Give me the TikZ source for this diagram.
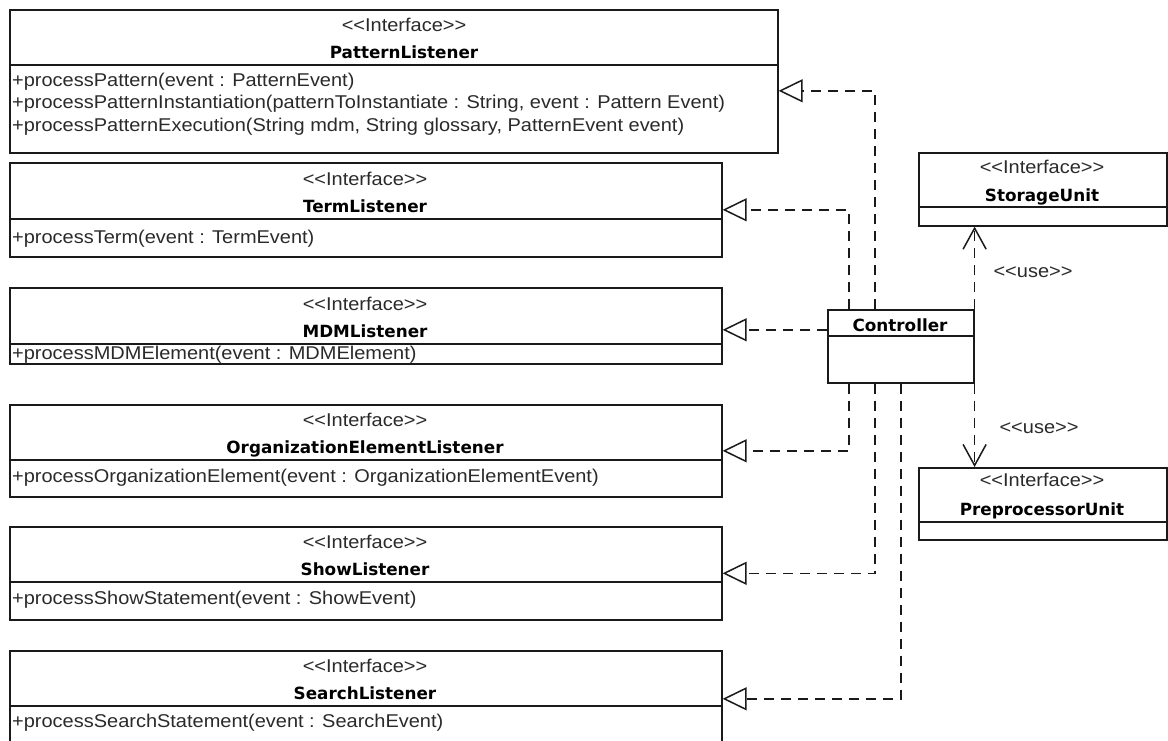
\documentclass[tikz,border=0pt]{standalone}
\usepackage{fontspec}
\setmainfont{Liberation Sans}[FakeStretch=1.08]
\newfontfamily\namefont{DejaVu Sans}
\usetikzlibrary{arrows.meta}
\definecolor{ink}{HTML}{1A1A1A}
\definecolor{txt}{HTML}{2A2A2A}
% stereotype brackets, kept apart so no guillemet ligature forms
\newcommand\stereotxt[1]{<{}<#1>{}>}
\begin{document}
\begin{tikzpicture}[x=1pt,y=-1pt,
  classbox/.style={draw=ink, line width=1.6pt, rectangle, anchor=north west, inner sep=0pt},
  sep/.style={draw=ink, line width=1.6pt},
  stereo/.style={anchor=base, inner sep=0pt, text=txt, font=\fontsize{18.5}{20}\selectfont},
  cname/.style={anchor=base, inner sep=0pt, text=black, font=\namefont\bfseries\fontsize{16.8}{20}\selectfont},
  meth/.style={anchor=base west, inner sep=0pt, text=txt, font=\fontsize{18.5}{20}\selectfont},
  uselabel/.style={anchor=base, inner sep=0pt, text=txt, font=\fontsize{18.5}{20}\selectfont},
  realize/.style={draw=ink, line width=1.5pt, dash pattern=on 10pt off 7pt,
    -{Triangle[open, length=24pt, width=23pt, line width=1.5pt, fill=white]}},
  uses/.style={draw=ink, line width=1.5pt, dash pattern=on 10pt off 7pt,
    -{Straight Barb[length=21pt, width=23pt, line width=1.5pt]}},
]
\useasboundingbox (0,0) rectangle (1168,740);

% ---- listener interfaces ----
\node[classbox, minimum width=768pt, minimum height=143pt] (pl) at (9,9) {};
\draw[sep] ([yshift=-56pt]pl.north west) -- ([yshift=-56pt]pl.north east);
\node[stereo] (pl-st) at (404,31) {\stereotxt{Interface}};
\node[cname] (pl-nm) at (404,58) {PatternListener};
\node[meth] (pl-m1) at (12,86) {+processPattern(event : PatternEvent)};
\node[meth] (pl-m2) at (12,108.5) {+processPatternInstantiation(patternToInstantiate : String, event : Pattern Event)};
\node[meth] (pl-m3) at (12,131) {+processPatternExecution(String mdm, String glossary, PatternEvent event)};

\node[classbox, minimum width=712pt, minimum height=94pt] (term) at (9,162) {};
\draw[sep] ([yshift=-57pt]term.north west) -- ([yshift=-57pt]term.north east);
\node[stereo] (term-st) at (365,185) {\stereotxt{Interface}};
\node[cname] (term-nm) at (365,212) {TermListener};
\node[meth] (term-m1) at (12,243) {+processTerm(event : TermEvent)};

\node[classbox, minimum width=712pt, minimum height=76pt] (mdm) at (9,287) {};
\draw[sep] ([yshift=-57pt]mdm.north west) -- ([yshift=-57pt]mdm.north east);
\node[stereo] (mdm-st) at (365,310) {\stereotxt{Interface}};
\node[cname] (mdm-nm) at (365,337) {MDMListener};
\node[meth] (mdm-m1) at (12,359) {+processMDMElement(event : MDMElement)};

\node[classbox, minimum width=712pt, minimum height=92pt] (org) at (9,404) {};
\draw[sep] ([yshift=-56pt]org.north west) -- ([yshift=-56pt]org.north east);
\node[stereo] (org-st) at (365,426) {\stereotxt{Interface}};
\node[cname] (org-nm) at (365,453) {OrganizationElementListener};
\node[meth] (org-m1) at (12,482) {+processOrganizationElement(event : OrganizationElementEvent)};

\node[classbox, minimum width=712pt, minimum height=93pt] (show) at (9,526) {};
\draw[sep] ([yshift=-56pt]show.north west) -- ([yshift=-56pt]show.north east);
\node[stereo] (show-st) at (365,548) {\stereotxt{Interface}};
\node[cname] (show-nm) at (365,575) {ShowListener};
\node[meth] (show-m1) at (12,604) {+processShowStatement(event : ShowEvent)};

\node[classbox, minimum width=712pt, minimum height=96pt] (search) at (9,650) {};
\draw[sep] ([yshift=-56pt]search.north west) -- ([yshift=-56pt]search.north east);
\node[stereo] (search-st) at (365,672) {\stereotxt{Interface}};
\node[cname] (search-nm) at (365,699) {SearchListener};
\node[meth] (search-m1) at (12,727) {+processSearchStatement(event : SearchEvent)};

% ---- controller and units ----
\node[classbox, minimum width=146pt, minimum height=73pt] (ctrl) at (827,309) {};
\draw[sep] ([yshift=-27pt]ctrl.north west) -- ([yshift=-27pt]ctrl.north east);
\node[cname] (ctrl-nm) at (900,331) {Controller};

\node[classbox, minimum width=248pt, minimum height=73pt] (store) at (918,152) {};
\draw[sep] ([yshift=-55pt]store.north west) -- ([yshift=-55pt]store.north east);
\node[stereo] (store-st) at (1042,173) {\stereotxt{Interface}};
\node[cname] (store-nm) at (1042,201.5) {StorageUnit};

\node[classbox, minimum width=248pt, minimum height=72pt] (pre) at (918,467) {};
\draw[sep] ([yshift=-55pt]pre.north west) -- ([yshift=-55pt]pre.north east);
\node[stereo] (pre-st) at (1042,486.5) {\stereotxt{Interface}};
\node[cname] (pre-nm) at (1042,515) {PreprocessorUnit};

% ---- realizations ----
\coordinate (pl-tip) at ([yshift=-9.5pt]pl.east);
\coordinate (mdm-tip) at ([yshift=-4pt]mdm.east);
\draw[realize] ([xshift=-26pt]ctrl.north) |- (pl-tip);
\draw[realize] ([xshift=-52pt]ctrl.north) |- (term.east);
\draw[realize] (ctrl.west |- mdm-tip) -- (mdm-tip);
\draw[realize] ([xshift=-52pt]ctrl.south) |- (org.east);
\draw[realize] ([xshift=-26pt]ctrl.south) |- (show.east);
\draw[realize] (ctrl.south) |- (search.east);

% ---- usage dependencies ----
\draw[uses] (ctrl.north east) -- (ctrl.north east |- store.south);
\draw[uses] (ctrl.south east) -- (ctrl.south east |- pre.north);
\node[uselabel] (use1) at (1033,277) {\stereotxt{use}};
\node[uselabel] (use2) at (1039,433) {\stereotxt{use}};
\end{tikzpicture}
\end{document}
